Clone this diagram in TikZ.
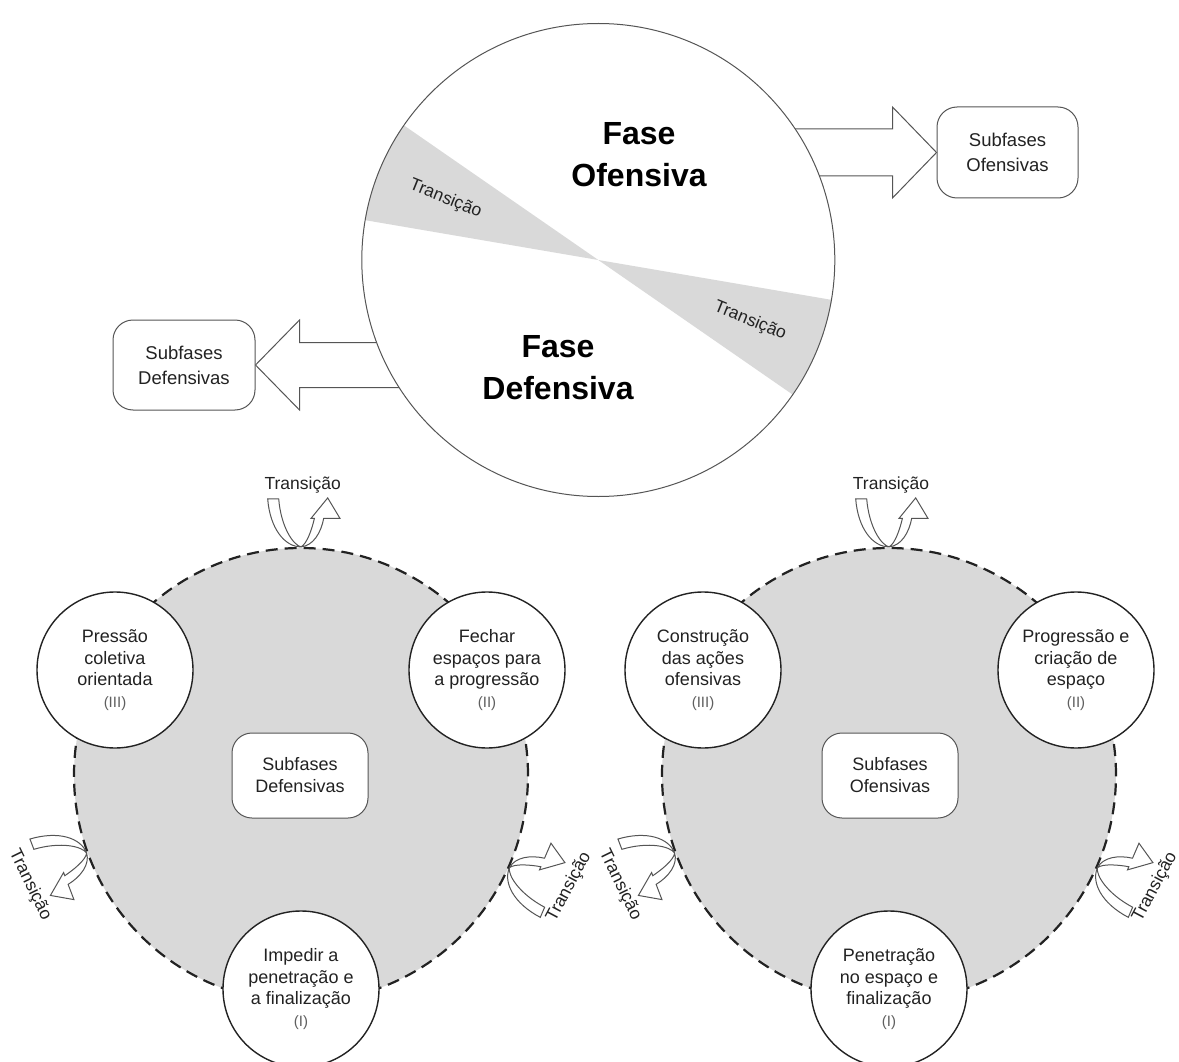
\documentclass[tikz,border=0pt]{standalone}
\usepackage{fontspec}
\setmainfont{Liberation Sans}
\usetikzlibrary{calc}
\definecolor{ink}{HTML}{222222}
\definecolor{wedgegray}{HTML}{D9D9D9}
\definecolor{edge}{HTML}{555555}
\definecolor{note}{HTML}{5F5F5F}
\newcommand{\stagenum}[1]{{\fontsize{15}{21.7}\selectfont\color{note}(#1)}}
\tikzset{
  phase/.style={font=\fontsize{32}{42}\selectfont\bfseries, text=black, align=center, inner sep=0pt},
  tlabel/.style={font=\fontsize{17.5}{21}\selectfont, text=ink, inner sep=0pt},
  subbox/.style={draw=edge, line width=1pt, fill=white, rounded corners=20pt, align=center, inner sep=0pt, text=ink},
  stage/.style={circle, draw=ink, line width=1.4pt, fill=white, minimum size=156pt, inner sep=0pt, align=center, text=ink, font=\fontsize{18}{21.7}\selectfont},
  loopring/.style={circle, draw=ink, line width=2.2pt, dash pattern=on 12pt off 7pt, fill=wedgegray, minimum size=454pt, inner sep=0pt},
  blockarrow/.style={draw=edge, line width=1pt, fill=white, line join=miter},
  turnarrow/.pic={
    \draw[blockarrow] (-33.3,-48) .. controls (-31,-18) and (-16,0) .. (0,0)
      .. controls (12,-1) and (20,-14) .. (22.7,-28.5)
      -- (39,-28.5) -- (26.7,-49) -- (10,-28.5) -- (13.4,-28.5)
      .. controls (11,-18) and (6,-3) .. (0,0)
      .. controls (-8,-2) and (-20,-20) .. (-22.3,-48) -- cycle;
  }
}
\begin{document}
\begin{tikzpicture}[x=1pt,y=-1pt]
\useasboundingbox (0,0) rectangle (1179,1062);

% ---------- main phase circle with its two sub-phase boxes ----------
\node[subbox, minimum width=141pt, minimum height=91pt, font=\fontsize{18.5}{25}\selectfont]
  (offbox) at (1007.5,152.5) {Subfases\\Ofensivas};
\node[subbox, minimum width=142pt, minimum height=90pt, font=\fontsize{18.5}{25}\selectfont]
  (defbox) at (184,365) {Subfases\\Defensivas};

% wide arrows leaving the circle
\draw[blockarrow] ($(offbox.west)+(-237,-23.5)$) -- ($(offbox.west)+(-44,-23.5)$)
  -- ($(offbox.west)+(-44,-45.5)$) -- (offbox.west) -- ($(offbox.west)+(-44,45.5)$)
  -- ($(offbox.west)+(-44,23.5)$) -- ($(offbox.west)+(-237,23.5)$) -- cycle;
\draw[blockarrow] ($(defbox.east)+(230,-22.5)$) -- ($(defbox.east)+(44,-22.5)$)
  -- ($(defbox.east)+(44,-45)$) -- (defbox.east) -- ($(defbox.east)+(44,45)$)
  -- ($(defbox.east)+(44,22.5)$) -- ($(defbox.east)+(230,22.5)$) -- cycle;

\node[circle, minimum size=473pt, inner sep=0pt, draw=edge, line width=1pt, fill=white,
  path picture={
    \fill[wedgegray] (path picture bounding box.center) -- +(145.3:300pt) -- +(170.3:300pt) -- cycle;
    \fill[wedgegray] (path picture bounding box.center) -- +(325.3:300pt) -- +(350.3:300pt) -- cycle;
  }] (bigC) at (598.3,260) {};

\node[phase] (ofens) at (639,154.5) {Fase\\Ofensiva};
\node[phase] (defens) at (558,368) {Fase\\Defensiva};
\node[tlabel, rotate=-22] (trA) at (445.5,199) {Transição};
\node[tlabel, rotate=-22] (trB) at (750,321) {Transição};

% ---------- defensive sub-phase cycle ----------
\node[loopring] (ringD) at (301,775) {};
\node[stage] (d3) at (115,670) {Pressão\\coletiva\\orientada\\\stagenum{III}};
\node[stage] (d2) at (487,670) {Fechar\\espaços para\\a progressão\\\stagenum{II}};
\node[stage] (d1) at (301,989) {Impedir a\\penetração e\\a finalização\\\stagenum{I}};
\node[subbox, minimum width=136pt, minimum height=85pt, font=\fontsize{18}{22}\selectfont]
  (dcore) at (300,775.5) {Subfases\\Defensivas};

\pic at (ringD.north) {turnarrow};
\pic[rotate=110.9, xscale=-1] at (ringD.200.9) {turnarrow};
\pic[rotate=246.7, xscale=-1] at (ringD.336.7) {turnarrow};
\node[tlabel] (dtop) at (302.7,485) {Transição};
\node[tlabel, rotate=-64] (dleft) at (30,885) {Transição};
\node[tlabel, rotate=62] (dright) at (569,887) {Transição};

% ---------- offensive sub-phase cycle ----------
\node[loopring] (ringO) at (889,775) {};
\node[stage] (o3) at (703,670) {Construção\\das ações\\ofensivas\\\stagenum{III}};
\node[stage] (o2) at (1076,670) {Progressão e\\criação de\\espaço\\\stagenum{II}};
\node[stage] (o1) at (889,989) {Penetração\\no espaço e\\finalização\\\stagenum{I}};
\node[subbox, minimum width=136pt, minimum height=85pt, font=\fontsize{18}{22}\selectfont]
  (ocore) at (890,775.5) {Subfases\\Ofensivas};

\pic at (ringO.north) {turnarrow};
\pic[rotate=110.9, xscale=-1] at (ringO.200.9) {turnarrow};
\pic[rotate=246.7, xscale=-1] at (ringO.336.7) {turnarrow};
\node[tlabel] (otop) at (891,485) {Transição};
\node[tlabel, rotate=-64] (oleft) at (620,885) {Transição};
\node[tlabel, rotate=62] (oright) at (1155,887) {Transição};
\end{tikzpicture}
\end{document}
